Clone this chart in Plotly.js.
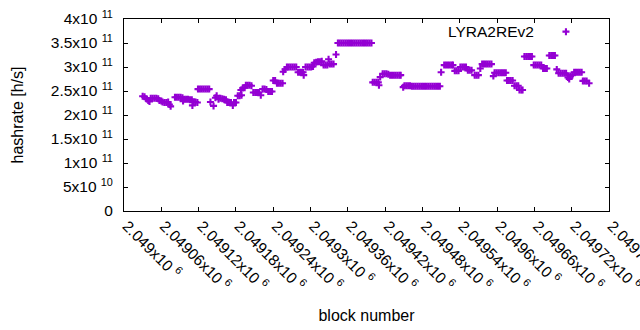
<!DOCTYPE html>
<html>
<head>
<meta charset="utf-8">
<script src="https://cdn.plot.ly/plotly-3.0.1.min.js"></script>
<style>
  html, body { margin: 0; padding: 0; background: #fff; }
  #chart { width: 640px; height: 330px; }
</style>
</head>
<body>
<div id="chart"></div>
<script>
// ---- data (block number, hashrate in h/s) ----
const seriesName = 'LYRA2REv2';

const blockNumber = [
  2049030, 2049033, 2049036, 2049039, 2049041,
  2049043, 2049046, 2049049, 2049052, 2049055,
  2049057, 2049060,
  2049062, 2049065, 2049068, 2049071,
  2049073, 2049075,
  2049082, 2049085, 2049088, 2049091, 2049094,
  2049095,
  2049097, 2049100, 2049103, 2049106, 2049109,
  2049110, 2049112, 2049115, 2049118,
  2049119, 2049122, 2049125, 2049128, 2049131, 2049134, 2049137,
  2049139, 2049144,
  2049147, 2049149, 2049152, 2049155, 2049158, 2049161, 2049164,
  2049166, 2049169, 2049172, 2049175, 2049177, 2049180,
  2049183, 2049186, 2049188, 2049189, 2049191, 2049194,
  2049196, 2049199, 2049202, 2049205,
  2049208, 2049211, 2049214, 2049217,
  2049220,
  2049223, 2049226, 2049229,
  2049232, 2049235, 2049238,
  2049240, 2049243,
  2049246, 2049249, 2049252, 2049255,
  2049256, 2049259,
  2049262, 2049265, 2049268, 2049271, 2049274, 2049277,
  2049280, 2049283, 2049286, 2049288, 2049289,
  2049292, 2049295, 2049298, 2049301, 2049304,
  2049306, 2049309, 2049312, 2049315, 2049318,
  2049321, 2049324, 2049327,
  2049329, 2049331, 2049334, 2049337,
  2049341,
  2049344, 2049347, 2049350, 2049353, 2049356, 2049359, 2049362, 2049365, 2049368, 2049371,
  2049374, 2049377, 2049380, 2049383, 2049386, 2049389, 2049392, 2049395, 2049398,
  2049400, 2049403, 2049406, 2049409, 2049410,
  2049412, 2049416, 2049419, 2049422, 2049425, 2049428, 2049431, 2049434, 2049437, 2049440, 2049443, 2049445,
  2049449, 2049451, 2049454, 2049457, 2049460, 2049463,
  2049466, 2049469, 2049472, 2049475, 2049478, 2049481, 2049484, 2049487, 2049490, 2049493,
  2049496, 2049499, 2049502, 2049505, 2049508,
  2049510,
  2049515, 2049518, 2049521, 2049524, 2049527, 2049529,
  2049532, 2049535, 2049538,
  2049541, 2049544, 2049547, 2049550,
  2049553, 2049556, 2049559,
  2049564, 2049567, 2049570,
  2049573, 2049576, 2049579, 2049582, 2049585, 2049588, 2049591,
  2049594, 2049596, 2049599, 2049602, 2049605, 2049608, 2049611, 2049614,
  2049616, 2049619, 2049622, 2049625,
  2049628, 2049631, 2049634,
  2049636, 2049639, 2049641,
  2049644, 2049647, 2049650, 2049653, 2049656,
  2049659, 2049662, 2049665, 2049668, 2049671,
  2049674, 2049677, 2049680,
  2049684, 2049687, 2049690, 2049693,
  2049696, 2049699, 2049702, 2049705, 2049708, 2049711,
  2049714, 2049716, 2049718, 2049721,
  2049724, 2049727, 2049730, 2049733, 2049736,
  2049738, 2049741, 2049744,
  2049748
];

const hashrate = [
  2.39e11, 2.38e11, 2.34e11, 2.30e11, 2.28e11,
  2.35e11, 2.35e11, 2.35e11, 2.35e11, 2.34e11,
  2.30e11, 2.29e11,
  2.27e11, 2.26e11, 2.26e11, 2.27e11,
  2.22e11, 2.18e11,
  2.37e11, 2.37e11, 2.37e11, 2.37e11, 2.36e11,
  2.29e11,
  2.33e11, 2.33e11, 2.33e11, 2.32e11, 2.32e11,
  2.20e11, 2.27e11, 2.27e11, 2.26e11,
  2.54e11, 2.54e11, 2.54e11, 2.54e11, 2.54e11, 2.54e11, 2.54e11,
  2.27e11, 2.19e11,
  2.36e11, 2.40e11, 2.33e11, 2.35e11, 2.34e11, 2.33e11, 2.32e11,
  2.26e11, 2.26e11, 2.26e11, 2.20e11, 2.26e11, 2.26e11,
  2.40e11, 2.40e11, 2.52e11, 2.41e11, 2.56e11, 2.57e11,
  2.62e11, 2.62e11, 2.62e11, 2.61e11,
  2.47e11, 2.47e11, 2.47e11, 2.47e11,
  2.41e11,
  2.54e11, 2.54e11, 2.53e11,
  2.49e11, 2.49e11, 2.49e11,
  2.72e11, 2.72e11,
  2.66e11, 2.66e11, 2.66e11, 2.66e11,
  2.90e11, 2.95e11,
  3.00e11, 3.00e11, 3.00e11, 3.00e11, 3.00e11, 3.00e11,
  2.89e11, 2.89e11, 2.89e11, 2.89e11, 2.83e11,
  3.00e11, 3.00e11, 3.00e11, 3.00e11, 3.01e11,
  3.09e11, 3.10e11, 3.11e11, 3.11e11, 3.12e11,
  3.04e11, 3.04e11, 3.04e11,
  3.16e11, 3.06e11, 3.06e11, 3.06e11,
  3.26e11,
  3.50e11, 3.50e11, 3.50e11, 3.50e11, 3.50e11, 3.50e11, 3.50e11, 3.50e11, 3.50e11, 3.50e11,
  3.50e11, 3.50e11, 3.50e11, 3.50e11, 3.50e11, 3.50e11, 3.50e11, 3.50e11, 3.50e11,
  2.68e11, 2.68e11, 2.68e11, 2.68e11, 2.62e11,
  2.79e11, 2.86e11, 2.86e11, 2.86e11, 2.85e11, 2.83e11, 2.83e11, 2.83e11, 2.83e11, 2.83e11, 2.83e11, 2.83e11,
  2.58e11, 2.61e11, 2.61e11, 2.61e11, 2.61e11, 2.60e11,
  2.60e11, 2.60e11, 2.60e11, 2.60e11, 2.60e11, 2.60e11, 2.60e11, 2.60e11, 2.60e11, 2.60e11,
  2.60e11, 2.60e11, 2.60e11, 2.60e11, 2.60e11,
  2.89e11,
  3.04e11, 3.04e11, 3.04e11, 3.04e11, 3.04e11, 3.04e11,
  2.92e11, 2.92e11, 2.92e11,
  3.00e11, 3.00e11, 3.00e11, 3.00e11,
  2.93e11, 2.93e11, 2.93e11,
  2.83e11, 2.83e11, 2.83e11,
  2.97e11, 3.06e11, 3.06e11, 3.06e11, 3.06e11, 3.06e11, 3.06e11,
  2.81e11, 2.88e11, 2.88e11, 2.88e11, 2.88e11, 2.88e11, 2.88e11, 2.88e11,
  2.72e11, 2.72e11, 2.72e11, 2.72e11,
  2.61e11, 2.61e11, 2.61e11,
  2.52e11, 2.52e11, 2.52e11,
  3.22e11, 3.22e11, 3.22e11, 3.22e11, 3.22e11,
  3.04e11, 3.04e11, 3.04e11, 3.04e11, 3.04e11,
  2.97e11, 2.97e11, 2.97e11,
  3.24e11, 3.24e11, 3.24e11, 3.24e11,
  2.95e11, 2.87e11, 2.87e11, 2.87e11, 2.87e11, 2.87e11,
  2.78e11, 2.75e11, 2.81e11, 2.83e11,
  2.89e11, 2.89e11, 2.89e11, 2.89e11, 2.89e11,
  2.71e11, 2.71e11, 2.71e11,
  2.66e11
];

// ---- axis ticks ----
const xTickValues = [2049000, 2049060, 2049120, 2049180, 2049240, 2049300, 2049360,
                     2049420, 2049480, 2049540, 2049600, 2049660, 2049720, 2049780];
const xTickLabels = ['2.049x10 <sup>6</sup>', '2.04906x10 <sup>6</sup>', '2.04912x10 <sup>6</sup>',
                     '2.04918x10 <sup>6</sup>', '2.04924x10 <sup>6</sup>', '2.0493x10 <sup>6</sup>',
                     '2.04936x10 <sup>6</sup>', '2.04942x10 <sup>6</sup>', '2.04948x10 <sup>6</sup>',
                     '2.04954x10 <sup>6</sup>', '2.0496x10 <sup>6</sup>', '2.04966x10 <sup>6</sup>',
                     '2.04972x10 <sup>6</sup>', '2.04978x10 <sup>6</sup>'];
const yTickValues = [0, 5e10, 1e11, 1.5e11, 2e11, 2.5e11, 3e11, 3.5e11, 4e11];
const yTickLabels = ['0', '5x10 <sup>10</sup>', '1x10 <sup>11</sup>', '1.5x10 <sup>11</sup>',
                     '2x10 <sup>11</sup>', '2.5x10 <sup>11</sup>', '3x10 <sup>11</sup>',
                     '3.5x10 <sup>11</sup>', '4x10 <sup>11</sup>'];

const purple = '#9400d3';
const fontFamily = '"Liberation Sans", Arial, sans-serif';
const fsize = 15.5;
const titleSize = 16;

const trace = {
  x: blockNumber,
  y: hashrate,
  type: 'scatter',
  mode: 'markers',
  name: ' ',
  showlegend: true,
  marker: {
    symbol: 'cross-thin-open',
    size: 5,
    color: purple,
    line: { color: purple, width: 2.1 }
  },
  hoverinfo: 'skip'
};

const axisCommon = {
  showline: true, linecolor: '#000', linewidth: 1,
  mirror: 'ticks', ticks: 'inside', ticklen: 4, tickwidth: 1, tickcolor: '#000',
  showgrid: false, zeroline: false,
  tickfont: { family: fontFamily, size: fsize, color: '#000' },
  automargin: false
};

const layout = {
  width: 640, height: 330,
  margin: { l: 124, r: 31, t: 19, b: 119, pad: 0 },
  paper_bgcolor: '#fff', plot_bgcolor: '#fff',
  font: { family: fontFamily, size: fsize, color: '#000' },
  xaxis: Object.assign({}, axisCommon, {
    range: [2049000, 2049780],
    tickmode: 'array', tickvals: xTickValues, ticktext: xTickLabels,
    tickangle: 45,
    ticklabelshift: 3,
    ticklabelstandoff: -1,
    ticklabeloverflow: 'allow',
    title: { text: 'block number', font: { family: fontFamily, size: titleSize, color: '#000' }, standoff: 16 }
  }),
  yaxis: Object.assign({}, axisCommon, {
    range: [0, 4e11],
    tickmode: 'array', tickvals: yTickValues, ticktext: yTickLabels,
    ticklabelstandoff: 7,
    title: { text: 'hashrate [h/s]', font: { family: fontFamily, size: titleSize, color: '#000' }, standoff: 23 }
  }),
  showlegend: true,
  legend: {
    x: 0.87, y: 0.932, xanchor: 'left', yanchor: 'middle',
    bgcolor: 'rgba(0,0,0,0)', borderwidth: 0,
    font: { family: fontFamily, size: fsize, color: '#000' }
  },
  annotations: [{
    xref: 'paper', yref: 'paper', x: 0.849, y: 0.934,
    xanchor: 'right', yanchor: 'middle', showarrow: false,
    text: seriesName,
    font: { family: fontFamily, size: fsize, color: '#000' }
  }]
};

Plotly.newPlot('chart', [trace], layout, { displayModeBar: false, staticPlot: true });
</script>
</body>
</html>
